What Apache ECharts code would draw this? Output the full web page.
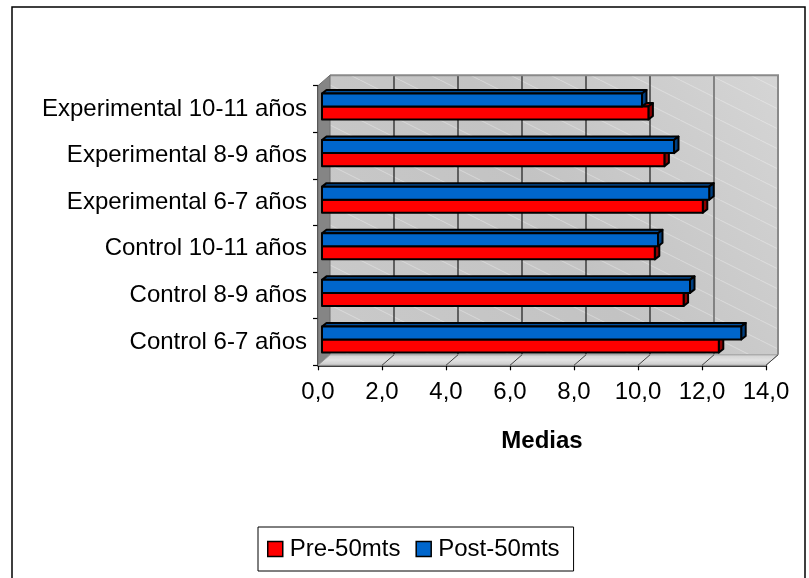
<!DOCTYPE html>
<html>
<head>
<meta charset="utf-8">
<script src="https://cdn.jsdelivr.net/npm/echarts@6/dist/echarts.min.js"></script>
<style>
  html, body { margin: 0; padding: 0; background: #fff; }
  #chart { width: 809px; height: 578px; }
</style>
</head>
<body>
<div id="chart"></div>
<script>
// Categories run bottom-to-top on the vertical axis
const categories = [
  'Control 6-7 años',
  'Control 8-9 años',
  'Control 10-11 años',
  'Experimental 6-7 años',
  'Experimental 8-9 años',
  'Experimental 10-11 años'
];
const preValues  = [12.4, 11.3, 10.4, 11.9, 10.7, 10.2];
const postValues = [13.1, 11.5, 10.5, 12.1, 11.0, 10.0];
const xTicks = [0, 2, 4, 6, 8, 10, 12, 14];
const seriesNames = ['Pre-50mts', 'Post-50mts'];
const axisTitle = 'Medias';

const FONT = '"Liberation Sans", Arial, Helvetica, sans-serif';

// Pseudo-3D geometry (pixel offsets of the box depth)
const WALL = [12, -10.5];
const BAR_OFF = [4, -2.5];
const BAR_DEPTH = [4.5, -3.5];
const BAR_H = 0.28;

// Faint diagonal streaks on the back wall
function hatchCanvas() {
  const c = document.createElement('canvas');
  c.width = 40; c.height = 20;
  const g = c.getContext('2d');
  g.strokeStyle = 'rgba(255,255,255,0.32)';
  g.lineWidth = 1;
  g.beginPath();
  for (const ox of [-40, 0, 40]) {
    g.moveTo(ox, 0);
    g.lineTo(ox + 40, 20);
  }
  g.stroke();
  return c;
}
const hatch = hatchCanvas();

function renderWalls(params, api) {
  const band = api.size([0, 1])[1];
  const yTop = api.coord([0, categories.length - 1])[1] - band / 2;
  const yBot = api.coord([0, 0])[1] + band / 2;
  const x0 = api.coord([xTicks[0], 0])[0];
  const x1 = api.coord([xTicks[xTicks.length - 1], 0])[0];
  const dx = WALL[0], dy = WALL[1];
  const children = [];

  // back wall
  children.push({
    type: 'rect',
    shape: { x: x0 + dx, y: yTop + dy, width: x1 - x0, height: yBot - yTop },
    style: {
      fill: new echarts.graphic.LinearGradient(0, 1, 1, 0, [
        { offset: 0, color: '#cacaca' },
        { offset: 0.5, color: '#c3c3c3' },
        { offset: 1, color: '#d5d5d5' }
      ])
    }
  });
  children.push({
    type: 'rect',
    shape: { x: x0 + dx, y: yTop + dy, width: x1 - x0, height: yBot - yTop },
    style: { fill: { image: hatch, repeat: 'repeat' } }
  });

  // vertical gridlines on the back wall
  xTicks.slice(1, -1).forEach(function (t, i, arr) {
    const x = api.coord([t, 0])[0] + dx;
    const last = i === arr.length - 1;
    children.push({
      type: 'line',
      shape: { x1: x, y1: yTop + dy, x2: x, y2: yBot + dy },
      style: { stroke: last ? '#7a7a7a' : '#1a1a1a', lineWidth: last ? 1.8 : 1.2 }
    });
  });

  // wall rim (top and right)
  children.push({
    type: 'polyline',
    shape: { points: [[x0 + dx, yTop + dy], [x1 + dx, yTop + dy], [x1 + dx, yBot + dy]] },
    style: { stroke: '#8a8a8a', lineWidth: 2, fill: null }
  });

  // left side wall
  children.push({
    type: 'polygon',
    shape: { points: [[x0, yTop], [x0 + dx, yTop + dy], [x0 + dx, yBot + dy], [x0, yBot]] },
    style: { fill: '#858585', stroke: '#6e6e6e', lineWidth: 1 }
  });

  // floor
  children.push({
    type: 'polygon',
    shape: { points: [[x0, yBot], [x1, yBot], [x1 + dx, yBot + dy], [x0 + dx, yBot + dy]] },
    style: {
      fill: new echarts.graphic.LinearGradient(0, 0, 0, 1, [
        { offset: 0, color: '#cfcfcf' },
        { offset: 0.5, color: '#e2e2e2' },
        { offset: 1, color: '#c8c8c8' }
      ]),
      stroke: '#9a9a9a',
      lineWidth: 1
    }
  });
  xTicks.slice(1).forEach(function (t) {
    const x = api.coord([t, 0])[0];
    children.push({
      type: 'line',
      shape: { x1: x, y1: yBot, x2: x + dx, y2: yBot + dy },
      style: { stroke: '#444', lineWidth: 1 }
    });
  });

  return { type: 'group', children: children };
}

function barRenderer(upper, front, top, side) {
  return function (params, api) {
    const idx = api.value(0);
    const v = api.value(1);
    const band = api.size([0, 1])[1];
    const h = band * BAR_H;
    const c0 = api.coord([0, idx]);
    const c1 = api.coord([v, idx]);
    const left = c0[0] + BAR_OFF[0];
    const right = c1[0] + BAR_OFF[0];
    const mid = c0[1] + BAR_OFF[1];
    const y = upper ? mid - h : mid;
    const bx = BAR_DEPTH[0], by = BAR_DEPTH[1];
    const edge = { stroke: '#000', lineWidth: 2, lineJoin: 'round' };
    return {
      type: 'group',
      children: [
        {
          type: 'polygon',
          shape: { points: [[left, y], [right, y], [right + bx, y + by], [left + bx, y + by]] },
          style: Object.assign({ fill: top }, edge)
        },
        {
          type: 'polygon',
          shape: { points: [[right, y], [right + bx, y + by], [right + bx, y + h + by], [right, y + h]] },
          style: Object.assign({ fill: side }, edge)
        },
        {
          type: 'rect',
          shape: { x: left, y: y, width: right - left, height: h },
          style: Object.assign({ fill: front }, edge)
        }
      ]
    };
  };
}

const chart = echarts.init(document.getElementById('chart'), null, { renderer: 'canvas' });

chart.setOption({
  animation: false,
  backgroundColor: '#fff',
  textStyle: { fontFamily: FONT, color: '#000' },
  graphic: [{
    type: 'rect',
    silent: true,
    z: -10,
    shape: { x: 12, y: 7, width: 793, height: 620 },
    style: { fill: null, stroke: '#000', lineWidth: 1.5 }
  }],
  grid: {
    left: 318, right: 43, top: 85.7, bottom: 212.7,
    containLabel: false,
    outerBoundsMode: 'none'
  },
  legend: {
    data: seriesNames,
    left: 258, top: 527,
    orient: 'horizontal',
    padding: [10, 14, 10, 9],
    borderColor: '#000', borderWidth: 1,
    backgroundColor: '#fff',
    itemWidth: 15, itemHeight: 15, itemGap: 15,
    icon: 'rect',
    itemStyle: { borderColor: '#000', borderWidth: 1.5 },
    textStyle: { fontSize: 24, fontFamily: FONT, color: '#000', padding: [0, 0, 0, 2] }
  },
  xAxis: {
    type: 'value',
    min: 0, max: 14, interval: 2,
    axisLine: { show: true, onZero: false, lineStyle: { color: '#000', width: 1.5 } },
    axisTick: { show: true, length: 5, lineStyle: { color: '#000', width: 1.2 } },
    splitLine: { show: false },
    axisLabel: {
      fontSize: 24, fontFamily: FONT, color: '#000', margin: 15,
      formatter: function (v) { return v.toFixed(1).replace('.', ','); }
    },
    name: axisTitle,
    nameLocation: 'middle',
    nameGap: 76,
    nameTextStyle: { fontSize: 24, fontWeight: 'bold', fontFamily: FONT, color: '#000', verticalAlign: 'middle' }
  },
  yAxis: {
    type: 'category',
    data: categories,
    axisLine: { show: true, lineStyle: { color: '#000', width: 1.5 } },
    axisTick: { show: true, length: 5, lineStyle: { color: '#000', width: 1.2 } },
    axisLabel: { fontSize: 24, fontFamily: FONT, color: '#000', margin: 11 }
  },
  series: [
    {
      type: 'custom',
      name: 'box',
      silent: true,
      clip: false,
      z: 1,
      renderItem: renderWalls,
      encode: { x: 0, y: 1 },
      data: [[0, 0]]
    },
    {
      type: 'custom',
      name: seriesNames[0],
      clip: false,
      z: 2,
      itemStyle: { color: '#ff0000', borderColor: '#000', borderWidth: 1.5 },
      renderItem: barRenderer(false, '#ff0000', '#b00000', '#8e0000'),
      encode: { x: 1, y: 0 },
      data: preValues.map(function (v, i) { return [i, v]; })
    },
    {
      type: 'custom',
      name: seriesNames[1],
      clip: false,
      z: 3,
      itemStyle: { color: '#0066cc', borderColor: '#000', borderWidth: 1.5 },
      renderItem: barRenderer(true, '#0066cc', '#004f9e', '#003f80'),
      encode: { x: 1, y: 0 },
      data: postValues.map(function (v, i) { return [i, v]; })
    }
  ]
});
</script>
</body>
</html>
